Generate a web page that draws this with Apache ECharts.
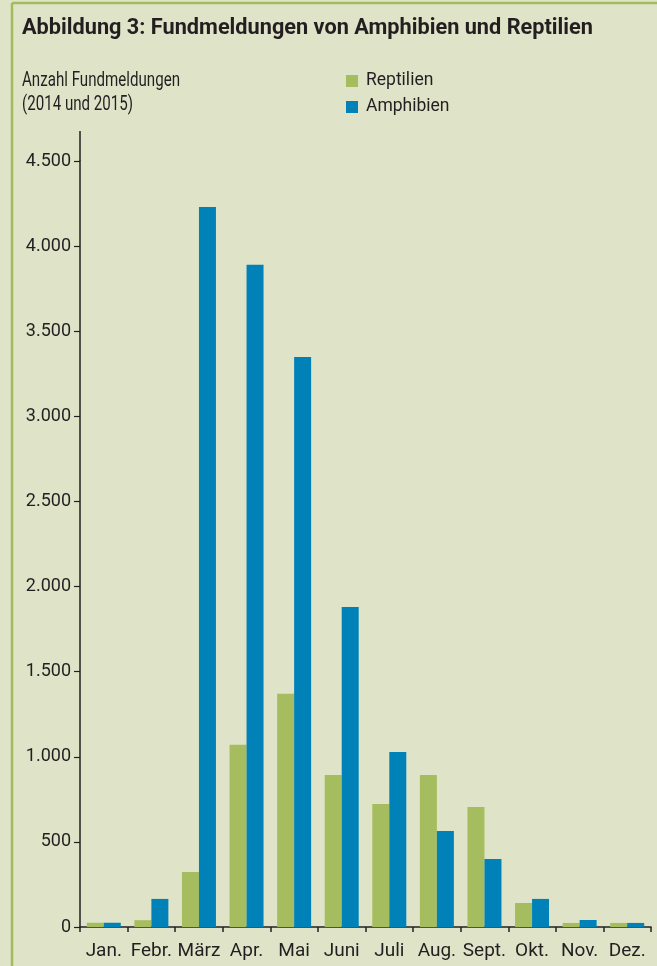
<!DOCTYPE html>
<html>
<head>
<meta charset="utf-8">
<script src="https://cdn.jsdelivr.net/npm/echarts@6/dist/echarts.min.js"></script>
<style>
html, body { margin: 0; padding: 0; background: #dfe4c8; }
#chart { width: 657px; height: 966px; }
</style>
</head>
<body>
<div id="chart"></div>
<script>
// Fundmeldungen 2014 und 2015
var months = ['Jan.', 'Febr.', 'März', 'Apr.', 'Mai', 'Juni', 'Juli', 'Aug.', 'Sept.', 'Okt.', 'Nov.', 'Dez.'];
var reptilien = [25, 40, 323, 1070, 1370, 893, 723, 893, 705, 141, 24, 24];
var amphibien = [25, 165, 4230, 3890, 3349, 1880, 1028, 564, 400, 165, 41, 24];
var yTicks = [0, 500, 1000, 1500, 2000, 2500, 3000, 3500, 4000, 4500];

var titleText = 'Abbildung 3: Fundmeldungen von Amphibien und Reptilien';
var subText = ['Anzahl Fundmeldungen', '(2014 und 2015)'];

var fontMain = 'Roboto, "Noto Sans", sans-serif';
var textColor = '#231f20';

// schmale Schrift fehlt -> Breite messen und horizontal stauchen
function squeeze(font, text, target) {
	var ctx = document.createElement('canvas').getContext('2d');
	ctx.font = font;
	return target / ctx.measureText(text).width;
}
var titleFont = 'bold 22px Roboto';
var subFont = '19.5px Roboto';
var titleScale = squeeze(titleFont, titleText, 571);
var subScale = squeeze(subFont, subText[0], 158);

var mychart = echarts.init(document.getElementById('chart'));
var option = {
	backgroundColor: '#dfe4c8',
	animation: false,
	legend: {
		orient: 'vertical',
		left: 346,
		top: 72,
		padding: 0,
		itemWidth: 12,
		itemHeight: 12,
		itemGap: 8,
		icon: 'rect',
		data: ['Reptilien', 'Amphibien'],
		textStyle: {
			fontFamily: fontMain,
			fontSize: 17.5,
			lineHeight: 16,
			color: textColor,
			padding: [0, 0, 0, 3]
		}
	},
	grid: {
		left: 80,
		right: 6,
		top: 161,
		bottom: 39
	},
	xAxis: {
		type: 'category',
		data: months,
		axisLine: { lineStyle: { color: '#231f20', width: 1.5 } },
		axisTick: { show: true, length: 5, lineStyle: { color: '#231f20', width: 1.5 } },
		axisLabel: {
			margin: 15,
			fontFamily: fontMain,
			fontSize: 19,
			color: textColor,
			interval: 0
		}
	},
	yAxis: {
		type: 'value',
		min: yTicks[0],
		max: yTicks[yTicks.length - 1],
		interval: 500,
		splitLine: { show: false },
		axisLine: { show: true, lineStyle: { color: '#231f20', width: 1.5 } },
		axisTick: { show: true, length: 6, lineStyle: { color: '#231f20', width: 1.2 } },
		axisLabel: {
			margin: 9,
			fontFamily: fontMain,
			fontSize: 18,
			color: textColor,
			formatter: function (v) {
				return String(v).replace(/\B(?=(\d{3})+(?!\d))/g, '.');
			}
		}
	},
	series: [
		{
			name: 'Reptilien',
			type: 'bar',
			barWidth: 17,
			barGap: '0%',
			itemStyle: { color: '#a6bd5f' },
			data: reptilien
		},
		{
			name: 'Amphibien',
			type: 'bar',
			barWidth: 17,
			barGap: '0%',
			itemStyle: { color: '#0082b9' },
			data: amphibien
		}
	]
};
mychart.setOption(option);

// Rahmen, Titel und Verlängerung der y-Achse
var top0 = mychart.convertToPixel({ yAxisIndex: 0 }, yTicks[yTicks.length - 1]);
mychart.setOption({
	graphic: [
		{ type: 'line', shape: { x1: 12, y1: 3, x2: 657, y2: 3 }, style: { stroke: '#a3bb5a', lineWidth: 2.5 } },
		{ type: 'line', shape: { x1: 12, y1: 3, x2: 12, y2: 966 }, style: { stroke: '#a3bb5a', lineWidth: 2.5 } },
		{ type: 'line', shape: { x1: 80, y1: top0, x2: 80, y2: top0 - 30 }, style: { stroke: '#231f20', lineWidth: 1.5 } },
		{
			type: 'text', x: 22, y: 28, scaleX: titleScale,
			style: { text: titleText, font: titleFont, fill: textColor, verticalAlign: 'middle' }
		},
		{
			type: 'text', x: 22, y: 81, scaleX: subScale,
			style: { text: subText[0], font: subFont, fill: textColor, verticalAlign: 'middle' }
		},
		{
			type: 'text', x: 22, y: 105, scaleX: subScale,
			style: { text: subText[1], font: subFont, fill: textColor, verticalAlign: 'middle' }
		}
	]
});
</script>
</body>
</html>
